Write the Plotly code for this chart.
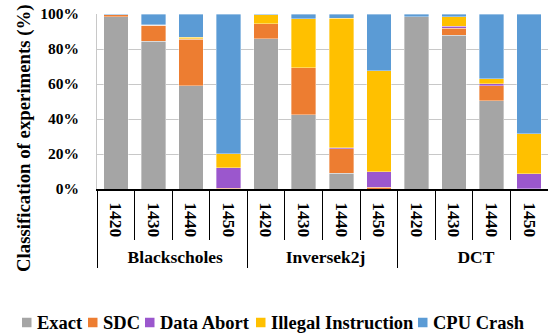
import plotly.graph_objects as go

benchmarks = ["Blackscholes"] * 4 + ["Inversek2j"] * 4 + ["DCT"] * 4
settings = ["1420", "1430", "1440", "1450"] * 3

exact = [98.5, 84.5, 59.0, 0.0, 86.0, 42.3, 9.0, 0.0, 98.5, 87.8, 50.3, 0.0]
sdc = [1.0, 9.0, 26.5, 0.5, 8.5, 27.0, 14.0, 1.0, 0.0, 4.2, 8.7, 0.2]
data_abort = [0.0, 0.0, 0.5, 11.7, 0.0, 0.0, 0.6, 9.0, 0.0, 1.1, 1.2, 8.6]
illegal = [0.0, 0.5, 0.7, 8.0, 5.0, 28.0, 74.0, 57.5, 0.0, 5.2, 2.7, 22.8]
crash = [0.5, 6.0, 13.3, 79.8, 0.5, 2.7, 2.4, 32.5, 1.5, 1.7, 37.1, 68.4]

series_names = ["Exact", "SDC", "Data Abort", "Illegal Instruction", "CPU Crash"]
series_values = [exact, sdc, data_abort, illegal, crash]
series_colors = ["#A5A5A5", "#ED7D31", "#9B57CD", "#FFC000", "#5B9BD5"]

FONT = "Liberation Serif"
W, H = 548, 335
M_L, M_R, M_T, M_B = 97, 0, 14, 146
PW, PH = W - M_L - M_R, H - M_T - M_B


def px_to_paper_x(px):
    return (px - M_L) / PW


def px_to_paper_y(py):
    return (H - M_B - py) / PH


fig = go.Figure()
for name, vals, color in zip(series_names, series_values, series_colors):
    fig.add_trace(go.Bar(
        x=[benchmarks, settings],
        y=vals,
        name=name,
        showlegend=False,
        marker=dict(color=color, line=dict(color="rgba(255,255,255,0.45)", width=0.8)),
    ))

fig.update_layout(
    barmode="stack",
    bargap=0.35,
    width=W,
    height=H,
    margin=dict(l=M_L, r=M_R, t=M_T, b=M_B),
    plot_bgcolor="white",
    paper_bgcolor="white",
    font=dict(family=FONT, color="black", size=15),
)

# Legend row along the bottom: a colour swatch followed by its label
legend_x = [22, 88, 145, 256, 418]
legend_y = 322.5
for name, color, lx in zip(series_names, series_colors, legend_x):
    fig.add_shape(
        type="rect", xref="paper", yref="paper",
        x0=px_to_paper_x(lx), x1=px_to_paper_x(lx + 9.5),
        y0=px_to_paper_y(legend_y - 4.75), y1=px_to_paper_y(legend_y + 4.75),
        fillcolor=color, line=dict(width=0),
    )
    fig.add_annotation(
        xref="paper", yref="paper",
        x=px_to_paper_x(lx + 12.5), y=px_to_paper_y(legend_y),
        xanchor="left", yanchor="middle",
        text=name, showarrow=False,
        font=dict(family=FONT, size=18.5, color="black", weight="bold"),
    )

# Vertical axis title, centred over the plot plus the category band
fig.add_annotation(
    xref="paper", yref="paper",
    x=px_to_paper_x(23.5), y=px_to_paper_y(138.5),
    xanchor="center", yanchor="middle",
    text="Classification of experiments (%)", textangle=-90, showarrow=False,
    font=dict(family=FONT, size=18.8, color="black", weight="bold"),
)

fig.update_xaxes(
    type="multicategory",
    tickangle=90,
    tickfont=dict(family=FONT, size=17.5, weight="bold"),
    ticklabelstandoff=8,
    showline=True,
    linecolor="black",
    linewidth=1.5,
    ticks="outside",
    ticklen=49,
    tickcolor="black",
    tickwidth=1,
    showdividers=True,
    dividercolor="black",
    dividerwidth=1,
    showgrid=False,
)

fig.update_yaxes(
    range=[0, 100],
    tickvals=[0, 20, 40, 60, 80, 100],
    ticktext=["0%", "20%", "40%", "60%", "80%", "100%"],
    tickfont=dict(family=FONT, size=15.5, weight="bold"),
    ticklabelstandoff=14,
    showgrid=True,
    gridcolor="#C8C8C8",
    gridwidth=1,
    showline=True,
    linecolor="#C8C8C8",
    zeroline=False,
)

fig.write_html("out.html")
